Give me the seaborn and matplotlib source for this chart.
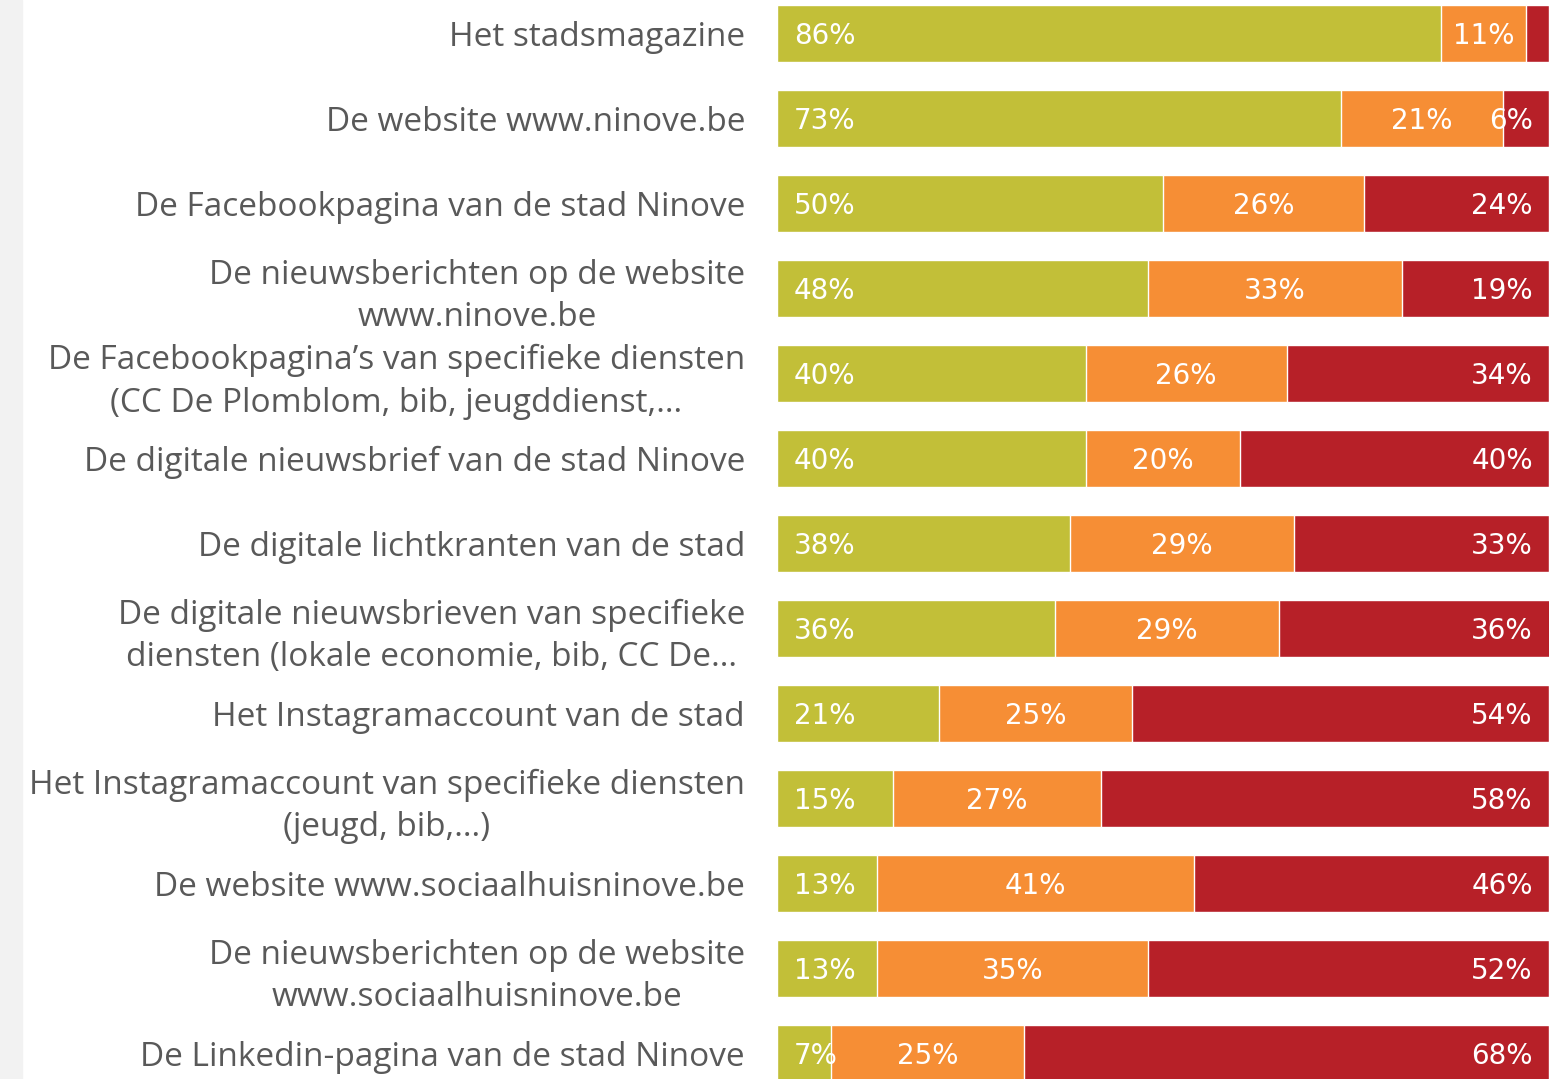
import pandas as pd
import matplotlib.pyplot as plt
import seaborn as sns
from matplotlib.patches import Rectangle

# Data
labels = [
    "Het stadsmagazine",
    "De website www.ninove.be",
    "De Facebookpagina van de stad Ninove",
    "De nieuwsberichten op de website\nwww.ninove.be",
    "De Facebookpagina’s van specifieke diensten\n(CC De Plomblom, bib, jeugddienst,…",
    "De digitale nieuwsbrief van de stad Ninove",
    "De digitale lichtkranten van de stad",
    "De digitale nieuwsbrieven van specifieke\ndiensten (lokale economie, bib, CC De…",
    "Het Instagramaccount van de stad",
    "Het Instagramaccount van specifieke diensten\n(jeugd, bib,…)",
    "De website www.sociaalhuisninove.be",
    "De nieuwsberichten op de website\nwww.sociaalhuisninove.be",
    "De Linkedin-pagina van de stad Ninove",
]
green = [86, 73, 50, 48, 40, 40, 38, 36, 21, 15, 13, 13, 7]
orange = [11, 21, 26, 33, 26, 20, 29, 29, 25, 27, 41, 35, 25]
red = [3, 6, 24, 19, 34, 40, 33, 36, 54, 58, 46, 52, 68]

c_green = "#C2BF38"
c_orange = "#F68E35"
c_red = "#B72028"

df = pd.DataFrame({"label": labels, "green": green, "orange": orange, "red": red})
df["go"] = df["green"] + df["orange"]
df["total"] = df["go"] + df["red"]

sns.set_style("white")
plt.rcParams["font.family"] = ["Open Sans", "DejaVu Sans"]

fig = plt.figure(figsize=(15.57, 10.79), dpi=100)
fig.patches.append(Rectangle((0, 0), 22 / 1557, 1, transform=fig.transFigure,
                             color="#F2F2F2", zorder=0))
ax = fig.add_axes([777 / 1557, 0, 772 / 1557, 1])

# stacked bars by layering cumulative totals
sns.barplot(data=df, x="total", y="label", color=c_red, width=0.67,
            errorbar=None, orient="h", ax=ax, saturation=1)
sns.barplot(data=df, x="go", y="label", color=c_orange, width=0.67,
            errorbar=None, orient="h", ax=ax, saturation=1)
sns.barplot(data=df, x="green", y="label", color=c_green, width=0.67,
            errorbar=None, orient="h", ax=ax, saturation=1)

pct_font = dict(color="white", fontsize=20, family="DejaVu Sans",
                va="center_baseline")
for i, row in df.iterrows():
    ax.text(2.2, i, f"{row['green']}%", ha="left", **pct_font)
    ax.text(row["green"] + row["orange"] / 2, i, f"{row['orange']}%",
            ha="center", **pct_font)
    if row["red"] >= 5:
        ax.text(97.9, i, f"{row['red']}%", ha="right", **pct_font)

ax.set_xlim(0, 100)
ax.set_ylim(12.306, -0.394)
ax.set_xlabel("")
ax.set_ylabel("")
ax.set_xticks([])
ax.tick_params(axis="y", length=0, pad=23, labelsize=24, labelcolor="#595959")
for lbl in ax.get_yticklabels():
    lbl.set_linespacing(1.365)
    lbl.set_multialignment("center")
sns.despine(ax=ax, left=True, bottom=True)

fig.savefig("out.png", dpi=100)
